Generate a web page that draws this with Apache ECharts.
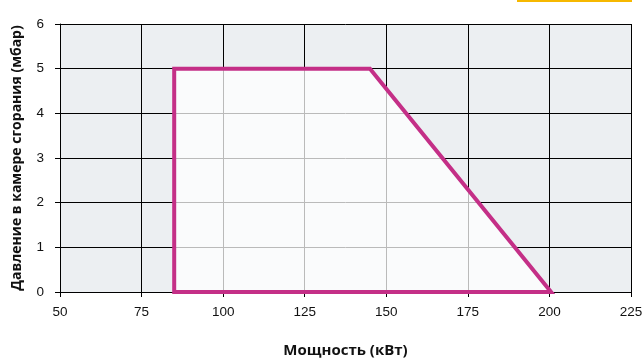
<!DOCTYPE html>
<html>
<head>
<meta charset="utf-8">
<script src="https://cdn.jsdelivr.net/npm/echarts@6/dist/echarts.min.js"></script>
<style>html,body{margin:0;padding:0;background:#fff;}#c{width:642px;height:358px;}</style>
</head>
<body>
<div id="c"></div>
<script>
// Operating range polygon (power kW, pressure mbar)
const powerKW = [85, 85, 145, 200.5];
const pressureMbar = [0, 5, 5, 0];
const xTicks = [50, 75, 100, 125, 150, 175, 200, 225];
const yTicks = [0, 1, 2, 3, 4, 5, 6];
const xTitle = 'Мощность (кВт)';
const yTitle = 'Давление в камере сгорания (мбар)';

const pts = powerKW.map((x, i) => [x, pressureMbar[i]]);

const chart = echarts.init(document.getElementById('c'), null, {renderer: 'canvas'});
chart.setOption({
  animation: false,
  backgroundColor: '#ffffff',
  graphic: [{
    type: 'rect', shape: {x: 517, y: 0, width: 115, height: 2},
    style: {fill: '#f6b800'}, z: 10
  }],
  grid: {left: 60, right: 11, top: 24, bottom: 66, show: true,
         backgroundColor: '#eceff2', borderWidth: 0,
         containLabel: false, outerBoundsMode: 'none'},
  xAxis: {
    type: 'value', min: xTicks[0], max: xTicks[xTicks.length - 1], interval: 25,
    name: xTitle, nameLocation: 'middle', nameGap: 51,
    nameTextStyle: {fontFamily: 'Open Sans', fontWeight: 'bold', fontSize: 15, color: '#111'},
    axisLine: {show: true, lineStyle: {color: '#000', width: 1}},
    axisTick: {show: true, length: 5, lineStyle: {color: '#000'}},
    axisLabel: {fontFamily: 'Liberation Sans', fontSize: 13.5, color: '#111', margin: 13},
    splitLine: {show: true, lineStyle: {color: '#000', width: 1}}
  },
  yAxis: {
    type: 'value', min: yTicks[0], max: yTicks[yTicks.length - 1], interval: 1,
    name: yTitle, nameLocation: 'middle', nameGap: 36,
    nameTextStyle: {fontFamily: 'Open Sans', fontWeight: 'bold', fontSize: 14, color: '#111'},
    axisLine: {show: true, lineStyle: {color: '#000', width: 1}},
    axisTick: {show: true, length: 5, lineStyle: {color: '#000'}},
    axisLabel: {fontFamily: 'Liberation Sans', fontSize: 13.5, color: '#111', margin: 16},
    splitLine: {show: true, lineStyle: {color: '#000', width: 1}}
  },
  series: [{
    type: 'custom',
    coordinateSystem: 'cartesian2d',
    data: [0],
    renderItem: function (params, api) {
      const points = pts.map(p => api.coord(p));
      return {
        type: 'polygon',
        shape: {points: points},
        style: {fill: 'rgba(255,255,255,0.73)', stroke: '#c42f87', lineWidth: 4, lineJoin: 'miter'}
      };
    },
    silent: true
  }]
});
</script>
</body>
</html>
